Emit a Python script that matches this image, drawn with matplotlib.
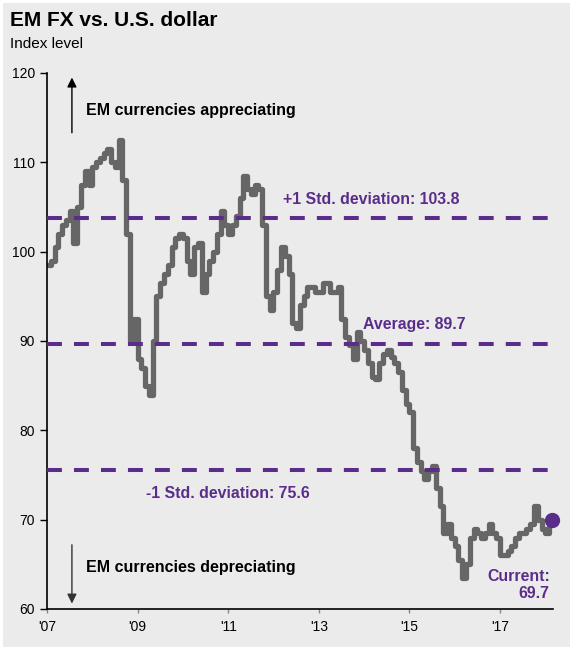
import numpy as np
import matplotlib.pyplot as plt
from matplotlib.patches import Rectangle

plt.rcParams['font.family'] = ['Liberation Sans', 'DejaVu Sans']

# monthly index level, Jan 2007 onwards
em_fx = [98.5, 99, 100.5, 102, 103, 103.5, 104.5, 101, 105, 107.5, 109, 107.5,
         109.5, 110, 110.5, 111, 111.5, 110, 109.5, 112.5, 108, 102, 90, 92.5,
         88, 87, 85, 84, 90, 95, 96.5, 97.5, 98.5, 100.5, 101.5, 102,
         101.5, 99, 97.5, 100.5, 101, 95.5, 97.5, 99, 100, 102, 104.5, 103,
         102, 103, 104, 106, 108.5, 107, 106.5, 107.5, 107, 103, 95, 93.5,
         95.5, 98, 100.5, 99.5, 97.5, 92, 91.5, 94, 95, 96, 96, 95.5,
         95.5, 96.5, 96.5, 95.5, 95.5, 96, 92.5, 90.5, 89.5, 88, 91, 90,
         89, 87.5, 86, 85.8, 87.5, 88.5, 89, 88.2, 87.5, 86.5, 84.5, 83,
         82, 78, 76.5, 75.5, 74.5, 75.5, 76, 73.5, 71.5, 68.5, 69.5, 68,
         67, 65.5, 63.5, 65, 68, 69, 68.5, 68, 68.5, 69.5, 68.5, 68,
         66, 66, 66.5, 67, 68, 68.5, 68.5, 69, 69.5, 71.5, 70, 69,
         68.5, 69.7]
years = 2007 + np.arange(len(em_fx)) / 12.0

average = 89.7
std_up = 103.8
std_down = 75.6
current = 69.7

purple = '#5b2d8a'
grey_line = '#666666'

fig = plt.figure(figsize=(5.74, 6.51), dpi=100)
fig.patch.set_facecolor('white')
fig.patches.append(Rectangle((3 / 574, 4 / 651), 567 / 574, 644 / 651,
                             transform=fig.transFigure, facecolor='#ebebeb',
                             edgecolor='none', zorder=-10))

ax = fig.add_axes([47 / 574, 42 / 651, 506 / 574, 536 / 651])
ax.set_facecolor('none')

for lvl in [std_up, average, std_down]:
    ax.axhline(lvl, color=purple, lw=2.9, dashes=(3.7, 3.0), zorder=3)

ax.step(years, em_fx, where='post', color=grey_line, lw=3.8, zorder=2)
ax.plot(years[-1] + 0.06, current + 0.3, 'o', color=purple, ms=10, zorder=4,
        clip_on=False)

ax.set_xlim(2007, 2018.17)
ax.set_ylim(60, 120)
ax.set_yticks([60, 70, 80, 90, 100, 110, 120])
ax.set_xticks([2007, 2009, 2011, 2013, 2015, 2017])
ax.set_xticklabels(["'07", "'09", "'11", "'13", "'15", "'17"])
ax.tick_params(axis='both', labelsize=10, color='black', length=5, width=1)
ax.tick_params(axis='x', direction='out', length=3, color='#888888', pad=5)
for s in ['top', 'right']:
    ax.spines[s].set_visible(False)
for s in ['left', 'bottom']:
    ax.spines[s].set_color('black')
    ax.spines[s].set_linewidth(1.2)

lbl = dict(color=purple, fontsize=11.4, fontweight='bold')
ax.text(2014.15, 105.0, '+1 Std. deviation: 103.8', ha='center', va='bottom', **lbl)
ax.text(2015.1, 91.0, 'Average: 89.7', ha='center', va='bottom', **lbl)
ax.text(2011.0, 73.8, '-1 Std. deviation: 75.6', ha='center', va='top', **lbl)
ax.text(2018.1, 62.7, 'Current:\n69.7', ha='right', va='center',
        linespacing=1.15, **lbl)

ax.annotate('', xy=(2007.55, 119.8), xytext=(2007.55, 113.0),
            arrowprops=dict(arrowstyle='-|>', color='black', lw=1, mutation_scale=14))
ax.annotate('', xy=(2007.55, 60.3), xytext=(2007.55, 67.5),
            arrowprops=dict(arrowstyle='-|>', color='#333333', lw=1, mutation_scale=14))
ax.text(2007.85, 115.8, 'EM currencies appreciating', fontsize=11.5,
        fontweight='bold', va='center')
ax.text(2007.85, 64.7, 'EM currencies depreciating', fontsize=11.5,
        fontweight='bold', va='center')

fig.text(10 / 574, 1 - 20 / 651, 'EM FX vs. U.S. dollar', fontsize=15,
         fontweight='bold', va='center')
fig.text(10 / 574, 1 - 44 / 651, 'Index level', fontsize=11, va='center')

fig.savefig('out.png', dpi=100)
